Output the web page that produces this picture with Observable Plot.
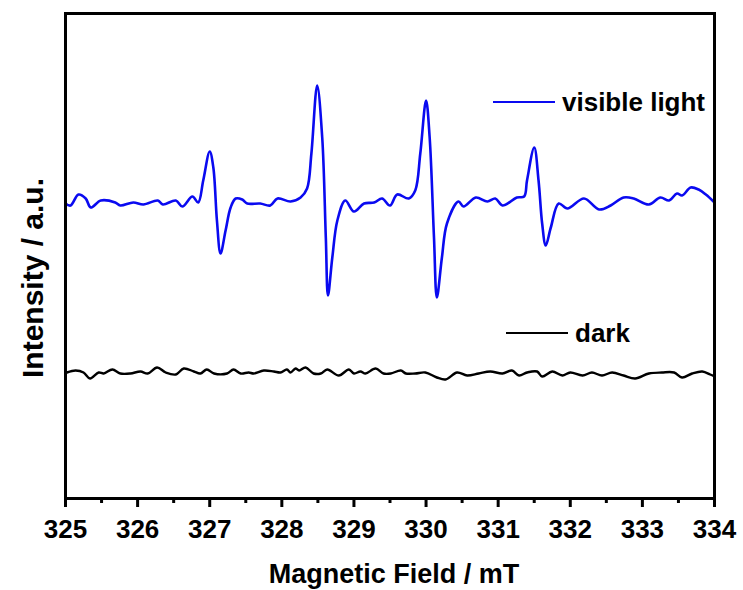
<!DOCTYPE html>
<html><head><meta charset="utf-8">
<script src="https://cdn.jsdelivr.net/npm/d3@7"></script>
<script src="https://cdn.jsdelivr.net/npm/@observablehq/plot@0.6"></script>
<style>
body{margin:0;background:#fff;}
#wrap{position:relative;width:743px;height:590px;font-family:"Liberation Sans",Arial,sans-serif;font-weight:bold;}
.leg{position:absolute;display:flex;align-items:center;font-size:26px;line-height:28px;color:#000;white-space:nowrap;}
.leg .sw{display:inline-block;width:62px;height:0;border-top:2.5px solid;margin-right:7px;}
.ttl{position:absolute;left:0;top:0;white-space:nowrap;color:#000;line-height:1;}
</style></head><body><div id="wrap"></div>
<script>
// Series names
const seriesNames = ["visible light", "dark"];

// Visible light EPR spectrum (magnetic field in mT, intensity in a.u.)
const fieldLight = [325.00,325.07,325.18,325.28,325.35,325.49,325.69,325.76,325.94,326.08,326.28,326.35,326.53,326.62,326.76,326.84,326.91,327.00,327.05,327.10,327.15,327.22,327.29,327.36,327.45,327.52,327.70,327.84,327.94,328.12,328.26,328.35,328.41,328.49,328.56,328.61,328.64,328.70,328.77,328.88,329.00,329.14,329.28,329.39,329.50,329.60,329.76,329.85,329.92,330.00,330.05,330.11,330.15,330.22,330.29,330.45,330.52,330.69,330.85,330.96,331.06,331.26,331.36,331.40,331.50,331.56,331.61,331.66,331.73,331.84,331.96,332.19,332.40,332.56,332.74,332.88,333.09,333.25,333.37,333.48,333.55,333.67,333.78,333.88,334.00];
const intensityLight = [2.95,2.93,3.04,3.00,2.91,2.98,2.96,2.93,2.96,2.94,2.98,2.94,2.98,2.92,3.02,2.96,3.18,3.47,3.31,2.78,2.45,2.68,2.91,3.00,2.99,2.95,2.95,2.93,3.00,2.97,3.01,3.10,3.45,4.13,3.61,2.61,2.03,2.41,2.78,2.98,2.87,2.95,2.96,3.00,2.93,3.04,3.00,3.08,3.45,3.98,3.61,2.61,2.01,2.41,2.75,2.97,2.92,3.01,2.97,3.00,2.93,3.01,3.02,3.18,3.51,3.18,2.75,2.53,2.71,2.95,2.90,3.00,2.89,2.93,3.01,3.00,2.94,3.01,2.98,3.05,3.03,3.11,3.09,3.04,2.96];

// Dark EPR spectrum
const fieldDark = [325.02,325.14,325.25,325.34,325.46,325.53,325.65,325.76,325.90,326.04,326.14,326.27,326.39,326.53,326.64,326.78,326.87,326.96,327.06,327.24,327.33,327.43,327.54,327.61,327.75,327.89,327.98,328.07,328.12,328.19,328.24,328.33,328.44,328.54,328.63,328.79,328.93,329.00,329.09,329.16,329.30,329.41,329.51,329.65,329.72,329.85,329.99,330.15,330.27,330.43,330.57,330.73,330.89,331.06,331.19,331.29,331.40,331.54,331.61,331.75,331.89,332.00,332.17,332.30,332.44,332.58,332.74,332.90,333.09,333.27,333.44,333.55,333.69,333.83,333.94,334.00];
const intensityDark = [1.26,1.28,1.26,1.20,1.26,1.25,1.29,1.25,1.25,1.27,1.25,1.31,1.26,1.24,1.30,1.27,1.25,1.29,1.25,1.25,1.29,1.25,1.26,1.25,1.28,1.27,1.26,1.29,1.26,1.30,1.28,1.31,1.25,1.25,1.29,1.23,1.29,1.25,1.27,1.25,1.30,1.25,1.25,1.28,1.25,1.25,1.26,1.21,1.19,1.26,1.23,1.25,1.27,1.25,1.28,1.23,1.26,1.27,1.22,1.27,1.23,1.26,1.23,1.26,1.23,1.26,1.23,1.20,1.25,1.26,1.26,1.21,1.25,1.27,1.24,1.22];

// Axis ticks
const majorTicks = [325,326,327,328,329,330,331,332,333,334];
const minorTicks = [325.5,326.5,327.5,328.5,329.5,330.5,331.5,332.5,333.5];
const xDomain = [325, 334];
const yDomain = [0, 4.85];
const xTitle = "Magnetic Field / mT";
const yTitle = "Intensity / a.u.";

const colors = ["#0a0af0", "#000000"];

const light = fieldLight.map((b, i) => ({B: b, I: intensityLight[i]}));
const dark = fieldDark.map((b, i) => ({B: b, I: intensityDark[i]}));

const chart = Plot.plot({
  width: 743,
  height: 590,
  marginLeft: 65,
  marginRight: 29,
  marginTop: 13,
  marginBottom: 92,
  style: {fontFamily: '"Liberation Sans", Arial, sans-serif', fontWeight: "bold", background: "#fff", color: "#000"},
  x: {domain: xDomain},
  y: {domain: yDomain},
  marks: [
    Plot.line(light, {x: "B", y: "I", stroke: colors[0], strokeWidth: 2.6, curve: "catmull-rom"}),
    Plot.line(dark, {x: "B", y: "I", stroke: colors[1], strokeWidth: 2.4, curve: "catmull-rom"}),
    Plot.axisX({ticks: minorTicks, tickSize: 5, strokeWidth: 3, tickFormat: () => "", label: null}),
    Plot.axisX({ticks: majorTicks, tickSize: 9, strokeWidth: 3, tickPadding: 12, fontSize: 26, tickFormat: d => String(d), label: null}),
    Plot.axisY({ticks: [], label: null}),
    Plot.frame({stroke: "#000", strokeWidth: 3})
  ]
});

const wrap = document.getElementById("wrap");
wrap.appendChild(chart);

// Axis titles
const xt = document.createElement("div");
xt.className = "ttl";
xt.textContent = xTitle;
xt.style.fontSize = "27px";
xt.style.transformOrigin = "0 0";
xt.style.transform = "translate(394px, 574px) translate(-50%, -50%)";
wrap.appendChild(xt);

const yt = document.createElement("div");
yt.className = "ttl";
yt.textContent = yTitle;
yt.style.fontSize = "30px";
yt.style.transformOrigin = "0 0";
yt.style.transform = "translate(33px, 278px) rotate(-90deg) translate(-50%, -50%)";
wrap.appendChild(yt);

const legendPos = [{left: 493, top: 88}, {left: 506, top: 319}];
seriesNames.forEach((name, i) => {
  const d = document.createElement("div");
  d.className = "leg";
  d.style.left = legendPos[i].left + "px";
  d.style.top = legendPos[i].top + "px";
  const sw = document.createElement("span");
  sw.className = "sw";
  sw.style.borderTopColor = colors[i];
  d.appendChild(sw);
  d.appendChild(document.createTextNode(name));
  wrap.appendChild(d);
});
</script>
</body></html>
